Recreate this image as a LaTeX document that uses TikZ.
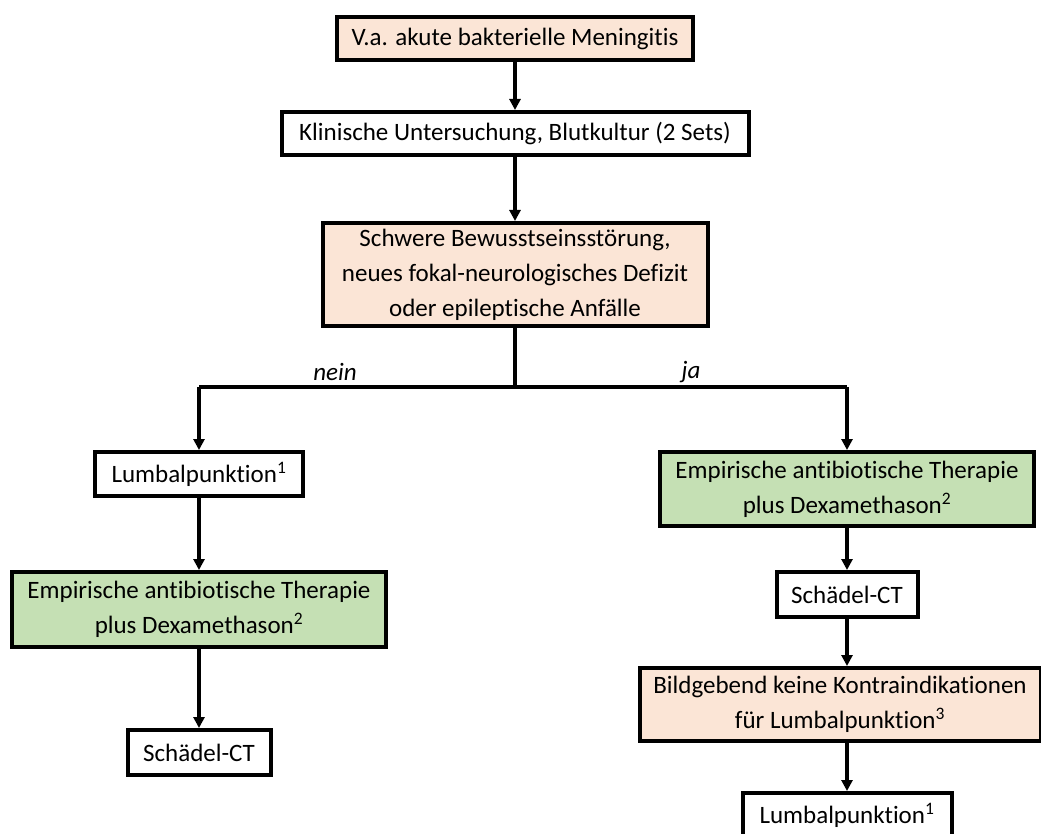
\documentclass[tikz,border=0pt]{standalone}
\usepackage{fontspec}
\setmainfont{Carlito}[Ligatures={NoCommon}]
\usetikzlibrary{arrows.meta}
\definecolor{pinkfill}{HTML}{FBE5D6}
\definecolor{greenfill}{HTML}{C5E0B4}
\tikzset{
  box/.style={draw=black, line width=4pt, align=center, inner sep=0pt,
    font=\fontsize{25}{35}\selectfont},
  pinkbox/.style={box, fill=pinkfill},
  greenbox/.style={box, fill=greenfill},
  whitebox/.style={box, fill=white},
  arr/.style={line width=3.2pt, -{Triangle[length=11pt,width=11pt]}},
  ln/.style={line width=3.2pt},
  lbl/.style={font=\fontsize{25}{28}\selectfont\itshape}
}
\begin{document}
\begin{tikzpicture}[x=1pt,y=1pt]
\clip (0,0) rectangle (1041,-834);
\fill[white] (0,0) rectangle (1041,-834);
\node[pinkbox, minimum width=356pt, minimum height=43pt] (b1) at (515,-38.5) {V.a. akute bakterielle Meningitis};
\node[whitebox, minimum width=467pt, minimum height=43pt] (b2) at (515,-133.5) {Klinische Untersuchung, Blutkultur (2 Sets)};
\node[pinkbox, minimum width=385pt, minimum height=103pt] (b3) at (515,-274.5) {Schwere Bewusstseinsstörung,\\neues fokal-neurologisches Defizit\\oder epileptische Anfälle};
\coordinate (split) at (515,-387);
\coordinate (sl) at (199,-387);
\coordinate (sr) at (847,-387);
\node[whitebox, minimum width=208pt, minimum height=44pt] (lp1) at (199,-474) {Lumbalpunktion\textsuperscript{1}};
\node[greenbox, minimum width=374pt, minimum height=75pt] (g1) at (199,-609.5) {Empirische antibiotische Therapie\\plus Dexamethason\textsuperscript{2}};
\node[whitebox, minimum width=143pt, minimum height=45pt] (ct1) at (199,-752.5) {Schädel-CT};
\node[greenbox, minimum width=374pt, minimum height=74pt] (g2) at (847,-489) {Empirische antibiotische Therapie\\plus Dexamethason\textsuperscript{2}};
\node[whitebox, minimum width=141pt, minimum height=45pt] (ct2) at (847,-594.5) {Schädel-CT};
\node[pinkbox, minimum width=401pt, minimum height=73pt] (p2) at (840,-704.5) {Bildgebend keine Kontraindikationen\\für Lumbalpunktion\textsuperscript{3}};
\node[whitebox, minimum width=209pt, minimum height=44pt] (lp2) at (847,-815) {Lumbalpunktion\textsuperscript{1}};
\node[lbl] (nein) at (335,-372) {nein};
\node[lbl] (ja) at (691,-372) {ja};
\draw[arr] (b1) -- (b2);
\draw[arr] (b2) -- (b3);
\draw[ln] (b3.south) -- (split);
\draw[ln] (sl) -- (sr);
\draw[arr] (sl) -- (lp1.north);
\draw[arr] (sr) -- (g2.north);
\draw[arr] (lp1) -- (g1);
\draw[arr] (g1) -- (ct1);
\draw[arr] (g2) -- (ct2);
\draw[arr] (ct2.south) -- (ct2.south |- p2.north);
\draw[arr] (ct2.south |- p2.south) -- (lp2.north);
\end{tikzpicture}
\end{document}
